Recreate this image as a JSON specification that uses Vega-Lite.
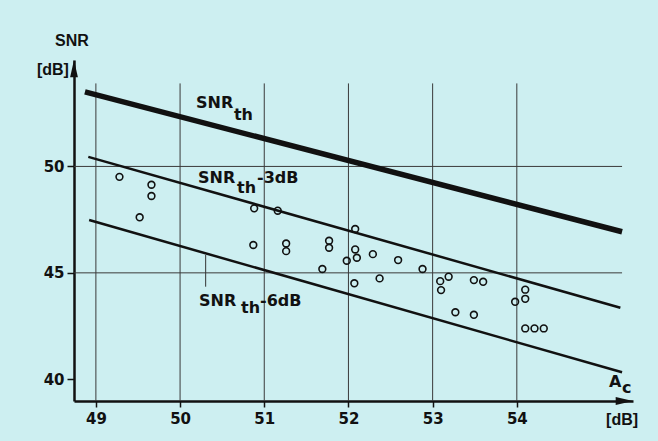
{
  "$schema": "https://vega.github.io/schema/vega-lite/v6.json",
  "width": 559,
  "height": 341,
  "autosize": {"type": "none"},
  "padding": {"left": 74, "top": 60, "right": 25, "bottom": 40},
  "background": "#cdeff1",
  "config": {
    "view": {"stroke": null},
    "font": "DejaVu Sans",
    "axis": {
      "grid": false,
      "domainColor": "#111111",
      "domainWidth": 2.5,
      "tickColor": "#111111",
      "tickWidth": 1.5,
      "labelFont": "DejaVu Sans",
      "labelFontSize": 15,
      "labelFontWeight": "bold",
      "labelColor": "#111111",
      "title": null
    }
  },
  "datasets": {
    "measurements": [
      {"ac": 49.28, "snr": 49.51},
      {"ac": 49.66, "snr": 49.14},
      {"ac": 49.66, "snr": 48.61},
      {"ac": 49.52, "snr": 47.61},
      {"ac": 50.88, "snr": 48.03},
      {"ac": 51.16, "snr": 47.92},
      {"ac": 50.87, "snr": 46.31},
      {"ac": 51.26, "snr": 46.38},
      {"ac": 51.26, "snr": 46.02},
      {"ac": 51.77, "snr": 46.51},
      {"ac": 51.77, "snr": 46.18},
      {"ac": 51.69, "snr": 45.18},
      {"ac": 51.98, "snr": 45.57},
      {"ac": 52.08, "snr": 47.06},
      {"ac": 52.08, "snr": 46.10},
      {"ac": 52.10, "snr": 45.71},
      {"ac": 52.29, "snr": 45.88},
      {"ac": 52.59, "snr": 45.60},
      {"ac": 52.07, "snr": 44.51},
      {"ac": 52.37, "snr": 44.74},
      {"ac": 52.88, "snr": 45.18},
      {"ac": 53.09, "snr": 44.61},
      {"ac": 53.19, "snr": 44.82},
      {"ac": 53.10, "snr": 44.19},
      {"ac": 53.49, "snr": 44.66},
      {"ac": 53.60, "snr": 44.58},
      {"ac": 53.27, "snr": 43.15},
      {"ac": 53.49, "snr": 43.03},
      {"ac": 53.98, "snr": 43.64},
      {"ac": 54.10, "snr": 44.21},
      {"ac": 54.10, "snr": 43.78},
      {"ac": 54.10, "snr": 42.39},
      {"ac": 54.21, "snr": 42.39},
      {"ac": 54.32, "snr": 42.39}
    ],
    "thresholds": [
      {"series": "SNRth", "ac": 48.87, "snr": 53.5},
      {"series": "SNRth", "ac": 55.25, "snr": 46.93},
      {"series": "SNRth-3dB", "ac": 48.91, "snr": 50.45},
      {"series": "SNRth-3dB", "ac": 55.23, "snr": 43.36},
      {"series": "SNRth-6dB", "ac": 48.92, "snr": 47.48},
      {"series": "SNRth-6dB", "ac": 55.25, "snr": 40.33}
    ],
    "gridx": [{"ac": 49}, {"ac": 50}, {"ac": 51}, {"ac": 52}, {"ac": 53}, {"ac": 54}],
    "gridy": [{"snr": 45}, {"snr": 50}],
    "pointer": [{"ac": 50.304, "snr": 45.84, "snr2": 44.35}],
    "axislabels": [
      {"text": "SNR", "ac": 48.514, "snr": 55.65},
      {"text": "[dB]", "ac": 48.30, "snr": 54.29},
      {"text": "[dB]", "ac": 55.06, "snr": 37.855}
    ],
    "labels": [
      {"text": "SNR", "ac": 50.19, "snr": 52.74},
      {"text": "th", "ac": 50.64, "snr": 52.17},
      {"text": "SNR", "ac": 50.213, "snr": 49.2},
      {"text": "th", "ac": 50.676, "snr": 48.75},
      {"text": "-3dB", "ac": 50.914, "snr": 49.2},
      {"text": "SNR", "ac": 50.225, "snr": 43.455},
      {"text": "th", "ac": 50.724, "snr": 43.10},
      {"text": "-6dB", "ac": 50.95, "snr": 43.455},
      {"text": "A", "ac": 55.095, "snr": 39.624},
      {"text": "c", "ac": 55.249, "snr": 39.343}
    ],
    "arrows": [
      {"ac": 55.38, "snr": 38.98, "dir": "right"},
      {"ac": 48.74, "snr": 55.0, "dir": "up"}
    ]
  },
  "layer": [
    {
      "data": {"name": "gridx"},
      "mark": {"type": "rule", "color": "#3a3a3a", "strokeWidth": 1},
      "encoding": {
        "x": {
          "field": "ac",
          "type": "quantitative",
          "scale": {"domain": [48.74, 55.38], "nice": false, "zero": false},
          "axis": {"values": [49, 50, 51, 52, 53, 54], "format": "d", "tickSize": 6, "labelPadding": 4}
        },
        "y": {
          "datum": 38.98,
          "type": "quantitative",
          "scale": {"domain": [38.98, 55.0], "nice": false, "zero": false},
          "axis": {"values": [40, 45, 50], "format": "d", "tickSize": 7, "labelPadding": 3}
        },
        "y2": {"datum": 53.9}
      }
    },
    {
      "data": {"name": "gridy"},
      "mark": {"type": "rule", "color": "#3a3a3a", "strokeWidth": 1},
      "encoding": {
        "x": {"datum": 48.74, "type": "quantitative"},
        "x2": {"datum": 55.25},
        "y": {"field": "snr", "type": "quantitative"}
      }
    },
    {
      "data": {"name": "thresholds"},
      "transform": [{"filter": "datum.series === 'SNRth'"}],
      "mark": {"type": "line", "color": "#111111", "strokeWidth": 5.5, "strokeCap": "butt"},
      "encoding": {
        "x": {"field": "ac", "type": "quantitative"},
        "y": {"field": "snr", "type": "quantitative"},
        "detail": {"field": "series"}
      }
    },
    {
      "data": {"name": "thresholds"},
      "transform": [{"filter": "datum.series !== 'SNRth'"}],
      "mark": {"type": "line", "color": "#111111", "strokeWidth": 2.5, "strokeCap": "butt"},
      "encoding": {
        "x": {"field": "ac", "type": "quantitative"},
        "y": {"field": "snr", "type": "quantitative"},
        "detail": {"field": "series"}
      }
    },
    {
      "data": {"name": "pointer"},
      "mark": {"type": "rule", "color": "#333333", "strokeWidth": 1},
      "encoding": {
        "x": {"field": "ac", "type": "quantitative"},
        "y": {"field": "snr", "type": "quantitative"},
        "y2": {"field": "snr2"}
      }
    },
    {
      "data": {"name": "measurements"},
      "mark": {"type": "point", "filled": false, "shape": "circle", "size": 46, "stroke": "#111111", "strokeWidth": 1.6, "opacity": 1},
      "encoding": {
        "x": {"field": "ac", "type": "quantitative"},
        "y": {"field": "snr", "type": "quantitative"}
      }
    },
    {
      "data": {"name": "labels"},
      "mark": {"type": "text", "align": "left", "baseline": "alphabetic", "font": "DejaVu Sans", "fontSize": 16, "fontWeight": "bold", "color": "#111111"},
      "encoding": {
        "x": {"field": "ac", "type": "quantitative"},
        "y": {"field": "snr", "type": "quantitative"},
        "text": {"field": "text"}
      }
    },
    {
      "data": {"name": "axislabels"},
      "mark": {"type": "text", "align": "left", "baseline": "alphabetic", "font": "Liberation Sans", "fontSize": 16, "fontWeight": "bold", "color": "#111111"},
      "encoding": {
        "x": {"field": "ac", "type": "quantitative"},
        "y": {"field": "snr", "type": "quantitative"},
        "text": {"field": "text"}
      }
    },
    {
      "data": {"name": "arrows"},
      "mark": {"type": "point", "filled": true, "color": "#111111", "size": 300, "opacity": 1},
      "encoding": {
        "x": {"field": "ac", "type": "quantitative"},
        "y": {"field": "snr", "type": "quantitative"},
        "shape": {
          "field": "dir",
          "scale": {"domain": ["right", "up"], "range": ["M-2,-0.45L0,0L-2,0.45Z", "M-0.45,2L0,0L0.45,2Z"]},
          "legend": null
        }
      }
    }
  ]
}
